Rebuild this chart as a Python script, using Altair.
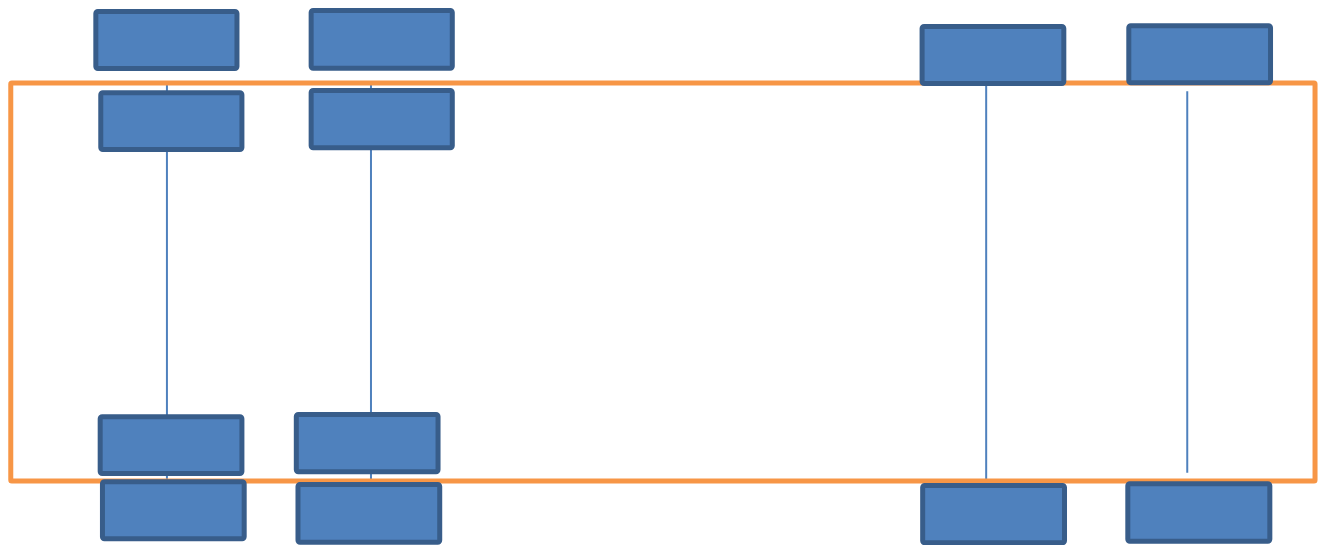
import altair as alt
import pandas as pd

# Blue boxes (stroke-centre edges, in reference pixel units)
box_x0 = [89.8, 307.5, 925.2, 1134.2, 94.8, 307.5, 94.2, 292.5, 96.5, 294.2, 925.8, 1133.2]
box_x1 = [232.5, 450.2, 1068.5, 1277.5, 237.5, 450.2, 237.5, 435.8, 239.8, 437.5, 1069.2, 1276.8]
box_y0 = [9.5, 8.5, 24.5, 23.8, 90.8, 88.5, 414.8, 412.5, 479.8, 482.5, 483.5, 481.8]
box_y1 = [66.5, 66.2, 81.5, 80.8, 147.5, 145.8, 471.5, 469.8, 536.8, 540.2, 540.8, 539.2]

# Thin vertical connector lines
line_x = [161.7, 368.0, 990.0, 1193.3]
line_y0 = [81.0, 81.0, 84.0, 89.3]
line_y1 = [479.0, 479.0, 479.3, 470.7]

# Orange frame
frame_x0 = [3.8]
frame_x1 = [1322.5]
frame_y0 = [81.0]
frame_y1 = [479.0]

boxes = pd.DataFrame({"x0": box_x0, "x1": box_x1, "y0": box_y0, "y1": box_y1})
lines = pd.DataFrame({"x": line_x, "y0": line_y0, "y1": line_y1})
frame = pd.DataFrame({"x0": frame_x0, "x1": frame_x1, "y0": frame_y0, "y1": frame_y1})

xs = alt.Scale(domain=[1, 1325.5], nice=False, zero=False)
ys = alt.Scale(domain=[6, 545], nice=False, zero=False, reverse=True)

line_layer = alt.Chart(lines).mark_rule(color="#4F81BD", strokeWidth=2).encode(
    x=alt.X("x:Q", scale=xs, axis=None),
    y=alt.Y("y0:Q", scale=ys, axis=None),
    y2="y1:Q",
)

frame_layer = alt.Chart(frame).mark_rect(
    fill="transparent", stroke="#F79646", strokeWidth=5, cornerRadius=1
).encode(
    x=alt.X("x0:Q", scale=xs, axis=None),
    x2="x1:Q",
    y=alt.Y("y0:Q", scale=ys, axis=None),
    y2="y1:Q",
)

box_layer = alt.Chart(boxes).mark_rect(
    fill="#4F81BD", stroke="#385D8A", strokeWidth=5, cornerRadius=2
).encode(
    x=alt.X("x0:Q", scale=xs, axis=None),
    x2="x1:Q",
    y=alt.Y("y0:Q", scale=ys, axis=None),
    y2="y1:Q",
)

chart = alt.layer(line_layer, frame_layer, box_layer).properties(
    width=1310, height=539, padding=0, background="white"
).configure_view(stroke=None)

chart.save("out.html", embed_options={"renderer": "svg", "actions": False})
